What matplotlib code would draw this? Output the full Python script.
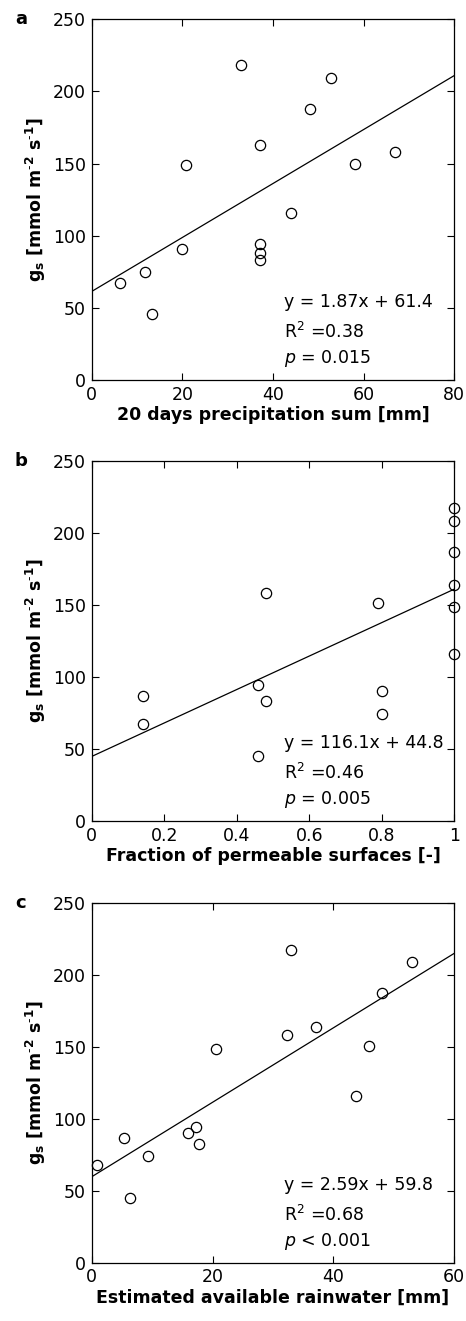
import matplotlib

matplotlib.use("Agg")
import matplotlib.pyplot as plt
import numpy as np

# ---- data ---------------------------------------------------------------------
gs_a = [67.5, 75, 46, 91, 149, 218, 163, 94, 88, 83, 116, 188, 209, 150, 158]
precip = [6.2, 11.8, 13.4, 19.9, 20.7, 32.9, 37.1, 37.1, 37.1, 37.1, 44.0, 48.2, 52.9, 58.2, 67.0]

frac = [0.142, 0.142, 0.46, 0.48, 0.46, 0.48, 0.79, 0.80, 0.80, 1, 1, 1, 1, 1, 1]
gs_b = [87, 67.5, 94.5, 83, 45, 158, 151, 90.5, 74.5, 217, 208.5, 187, 163.5, 148.5, 116]

rain = [0.9, 5.4, 6.3, 9.3, 16.0, 17.2, 17.8, 20.5, 32.3, 33.0, 37.1, 43.8, 45.9, 48.0, 53.0]
gs_c = [67.7, 87, 45.2, 74.2, 90.2, 94.6, 82.8, 148.4, 158.4, 217.5, 163.7, 116.2, 151, 187.6, 209]

fits = [(1.87, 61.4), (116.1, 44.8), (2.59, 59.8)]
stats = [("0.38", "= 0.015"), ("0.46", "= 0.005"), ("0.68", "< 0.001")]
xlims = [80, 1, 60]
xticks = [[0, 20, 40, 60, 80], [0, 0.2, 0.4, 0.6, 0.8, 1], [0, 20, 40, 60]]
xtick_labels = [["0", "20", "40", "60", "80"],
                ["0", "0.2", "0.4", "0.6", "0.8", "1"],
                ["0", "20", "40", "60"]]
xlabels = ["20 days precipitation sum [mm]",
           "Fraction of permeable surfaces [-]",
           "Estimated available rainwater [mm]"]
letters = ["a", "b", "c"]
yticks = [0, 50, 100, 150, 200, 250]

plt.rcParams["font.family"] = "DejaVu Sans"
plt.rcParams["mathtext.fontset"] = "dejavusans"

fig = plt.figure(figsize=(4.66, 13.21), dpi=100)
# [left, bottom, width, height] in figure fraction
boxes = [[0.1968, 0.7123, 0.778, 0.2731],
         [0.1968, 0.3785, 0.778, 0.2727],
         [0.1968, 0.0441, 0.778, 0.2721]]

ylab = r"$\mathbf{g_s}$ [mmol m$^{\mathbf{\text{-}2}}$ s$^{\mathbf{\text{-}1}}$]"

panels = [(precip, gs_a), (frac, gs_b), (rain, gs_c)]
for i, (x, y) in enumerate(panels):
    ax = fig.add_axes(boxes[i])
    ax.plot(x, y, "o", mfc="none", mec="black", ms=7.4, mew=0.9, clip_on=False, zorder=3)
    slope, icpt = fits[i]
    xx = np.array([0, xlims[i]])
    ax.plot(xx, slope * xx + icpt, color="black", lw=0.9)
    ax.set_xlim(0, xlims[i])
    ax.set_ylim(0, 250)
    ax.set_xticks(xticks[i])
    ax.set_xticklabels(xtick_labels[i])
    ax.set_yticks(yticks)
    ax.tick_params(direction="in", length=5, width=0.8, top=True, right=True,
                   labelsize=12.5, pad=4)
    for sp in ax.spines.values():
        sp.set_linewidth(0.9)
    ax.set_xlabel(xlabels[i], fontsize=12.5, fontweight="bold", labelpad=2)
    ax.set_ylabel(ylab, fontsize=12.5, fontweight="bold", labelpad=4)
    eq = f"y = {slope}x + {icpt}"
    ax.text(0.53, 0.216, eq, transform=ax.transAxes, fontsize=12.5, va="center")
    ax.text(0.53, 0.133, r"R$^2$ =" + stats[i][0], transform=ax.transAxes,
            fontsize=12.5, va="center")
    ax.text(0.53, 0.059, r"$p$ " + stats[i][1], transform=ax.transAxes,
            fontsize=12.5, va="center")
    fig.text(15 / 466, boxes[i][1] + boxes[i][3], letters[i], fontsize=13,
             fontweight="bold", va="center", ha="left")

fig.savefig("out.png", dpi=100)
